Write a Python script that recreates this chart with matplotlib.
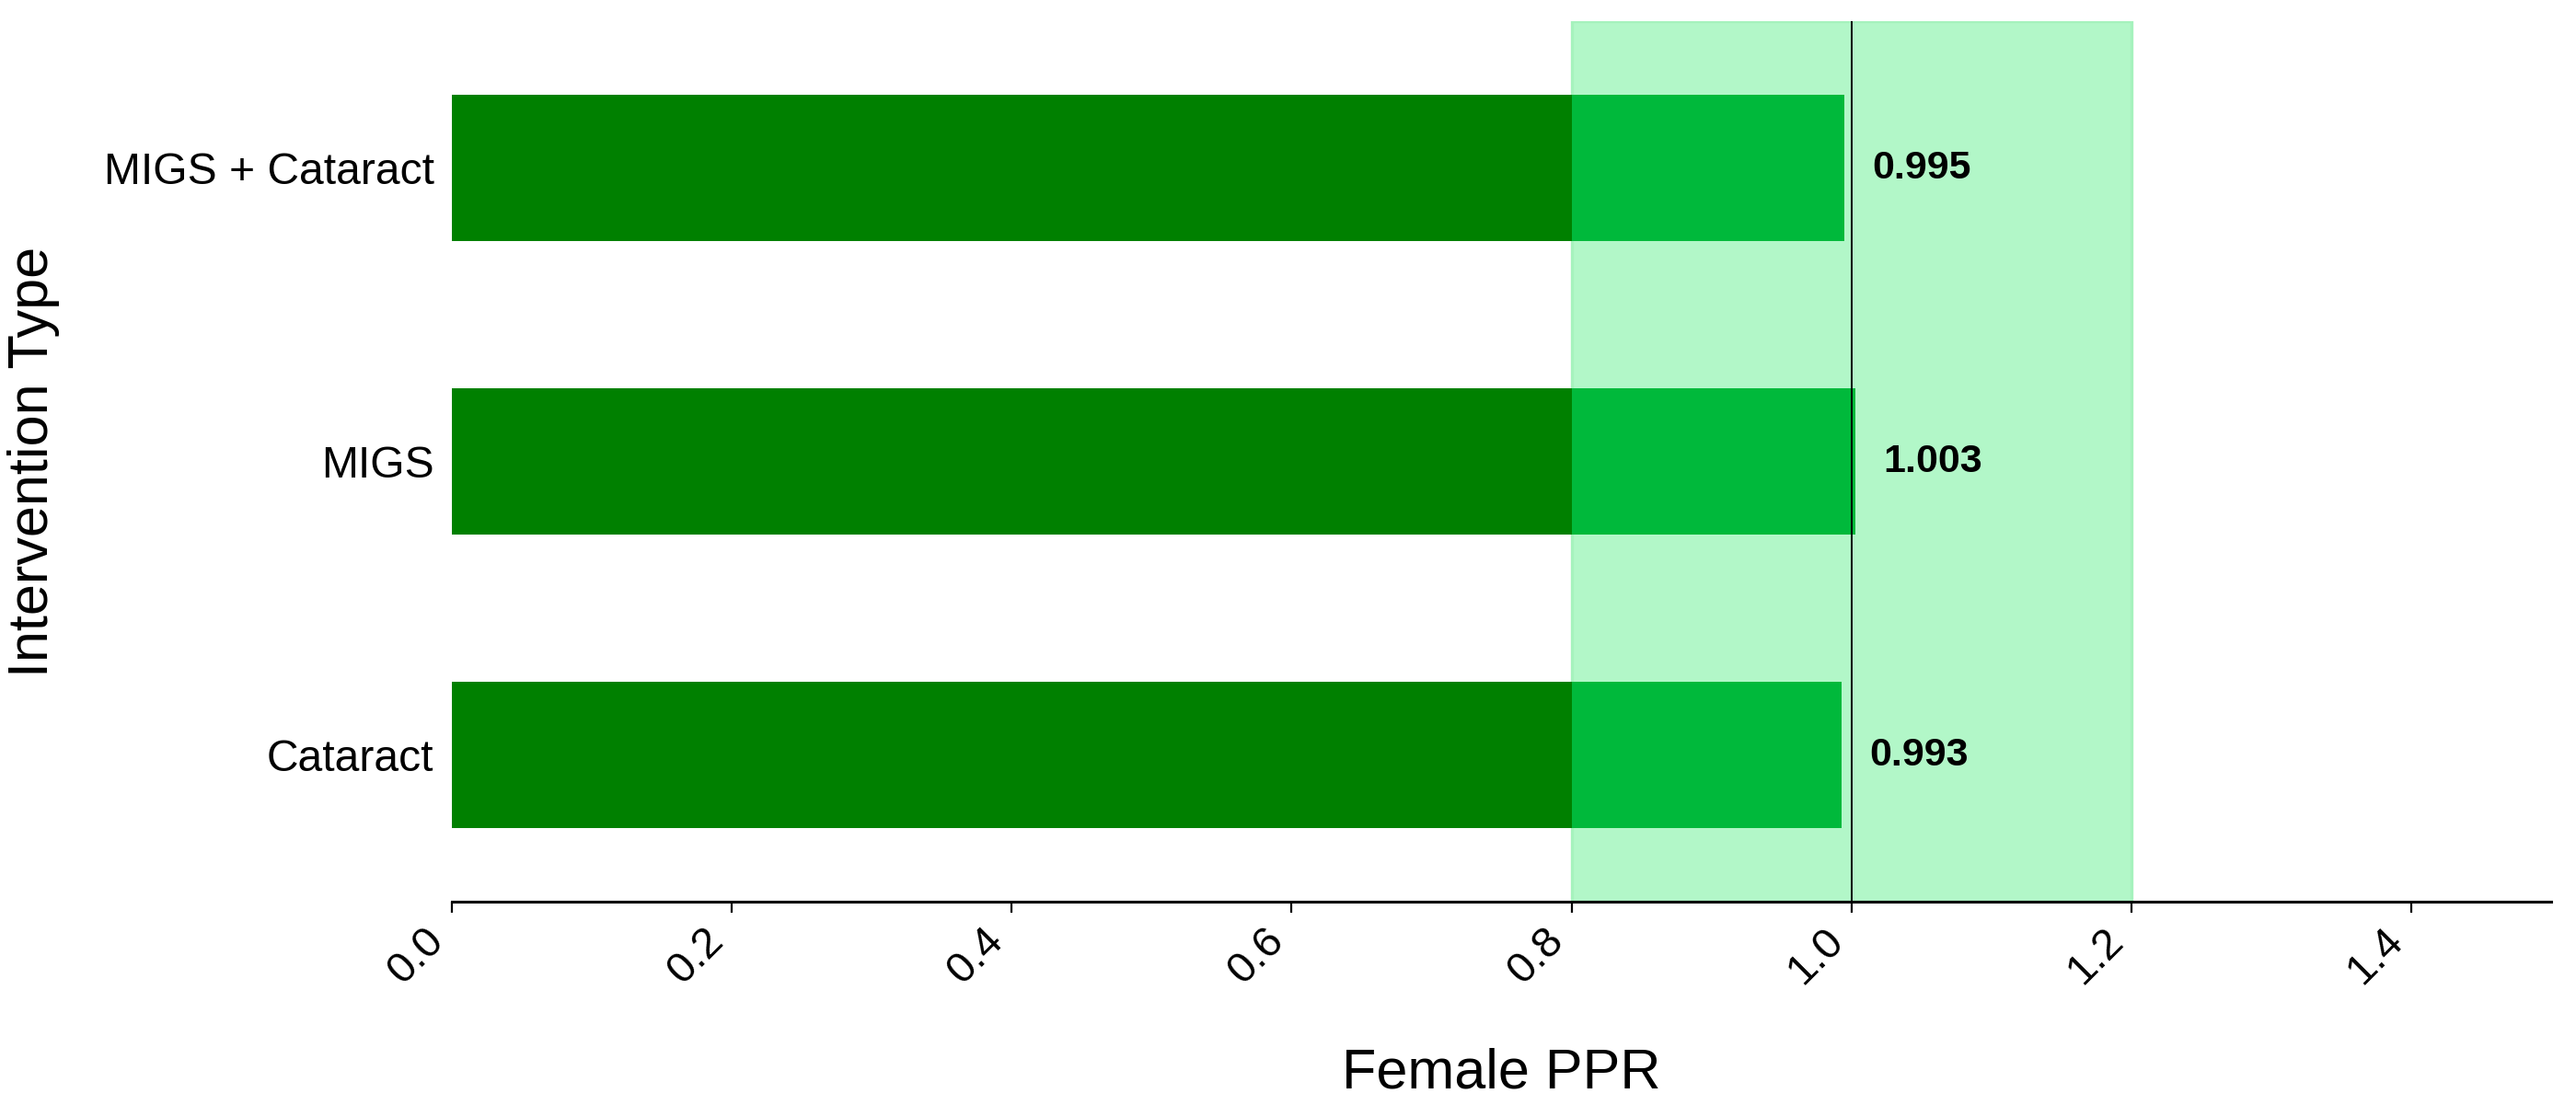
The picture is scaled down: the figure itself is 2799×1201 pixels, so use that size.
import matplotlib
matplotlib.use("Agg")
import matplotlib.pyplot as plt
import numpy as np

plt.rcParams['font.family'] = ['Liberation Sans', 'DejaVu Sans']

# data
categories = ["Cataract", "MIGS", "MIGS + Cataract"]
ppr = [0.993, 1.003, 0.995]
band_low = 0.8
band_high = 1.2
ref_line = 1.0
xticks = [0.0, 0.2, 0.4, 0.6, 0.8, 1.0, 1.2, 1.4]

fig, ax = plt.subplots(figsize=(13.995, 6.005), dpi=200)
fig.subplots_adjust(left=0.1754, right=0.9904, top=0.9808, bottom=0.184)

y = np.arange(len(categories))
vals = np.array(ppr)

# shaded acceptable range
ax.axvspan(band_low, band_high, facecolor='#b2f7c8', edgecolor='#a6f2bd',
           linewidth=1.2, zorder=0)

# bars: dark part below the band, brighter part inside it
ax.barh(y, np.minimum(vals, band_low), height=0.5, color='#008000', zorder=2)
ax.barh(y, vals - band_low, left=band_low, height=0.5, color='#00b93b', zorder=2)

ax.axvline(ref_line, color='black', linewidth=0.7, zorder=3)

for yi, v in zip(y, vals):
    ax.text(v + 0.02, yi, f"{v:.3f}", va='center', ha='left',
            fontsize=15.5, fontweight='bold', zorder=4)

ax.set_xlim(0, 1.5)
ax.set_ylim(-0.5, 2.5)
ax.set_yticks(y)
ax.set_yticklabels(categories, fontsize=17.3)
ax.set_xticks(xticks)
ax.set_xticklabels([f"{t:.1f}" for t in xticks], rotation=45, ha='right', fontsize=17)
ax.tick_params(axis='y', length=0, pad=7)
ax.tick_params(axis='x', length=4.2, width=0.8, pad=3)

for s in ['top', 'right', 'left']:
    ax.spines[s].set_visible(False)
ax.spines['bottom'].set_linewidth(1.1)

ax.set_xlabel("Female PPR", fontsize=22, labelpad=22)
ax.set_ylabel("Intervention Type", fontsize=22, labelpad=17)

fig.savefig("out.png", dpi=200)
